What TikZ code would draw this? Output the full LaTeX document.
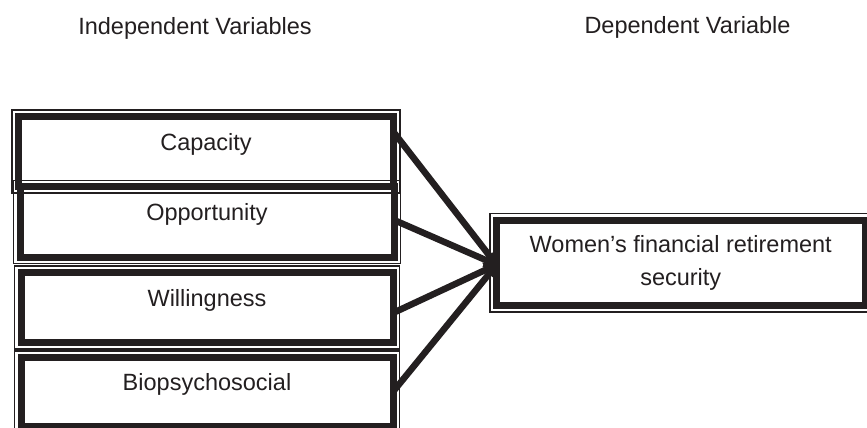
\documentclass[tikz,border=0pt]{standalone}
\usepackage{fontspec}
\setmainfont{Liberation Sans}
\usetikzlibrary{arrows.meta}
\definecolor{ink}{HTML}{231F20}
\begin{document}
\begin{tikzpicture}[x=1pt,y=-1pt,
  txt/.style={font=\fontsize{23.5}{33}\selectfont, text=ink},
  vbox/.style={draw=ink, line width=7pt, rectangle, inner sep=0pt, outer sep=0pt,
    txt, text height=15pt, text depth=18pt},
  frame/.style={draw=ink, line width=1.1pt},
  link/.style={draw=ink, line width=6.5pt, -{Triangle[length=12pt,width=15pt]}}
]
\useasboundingbox (0,0) rectangle (867,428);
\node[txt, anchor=base] (hi) at (195,35) {Independent Variables};
\node[txt, anchor=base] (hd) at (687.5,33.5) {Dependent Variable};

\node[vbox, minimum width=375pt, minimum height=70pt] (cap) at (206,151.5) {Capacity};
\node[vbox, minimum width=374pt, minimum height=70.5pt] (opp) at (207,222) {Opportunity};
\node[vbox, minimum width=372pt, minimum height=70pt] (wil) at (207,307.5) {Willingness};
\node[vbox, minimum width=372pt, minimum height=68.5pt] (bio) at (207,391.75) {Biopsychosocial};
\node[vbox, minimum width=368.5pt, minimum height=85.5pt, align=center, text height=, text depth=] (dv) at (680.75,262.75) {Women’s financial retirement\\security};

\foreach \n in {cap,opp,wil,bio,dv}{
  \draw[frame] ([shift={(-6.5pt,6.5pt)}]\n.north west) rectangle ([shift={(6.5pt,-6.5pt)}]\n.south east);
}

\draw[link] ([yshift=19.5pt]cap.east) -- ([yshift=-2pt]dv.west);
\draw[link] ([yshift=2pt]opp.east) -- ([yshift=-2pt]dv.west);
\draw[link] ([yshift=-5.5pt]wil.east) -- ([yshift=-2pt]dv.west);
\draw[link] (bio.east) -- ([yshift=-2pt]dv.west);
\end{tikzpicture}
\end{document}
